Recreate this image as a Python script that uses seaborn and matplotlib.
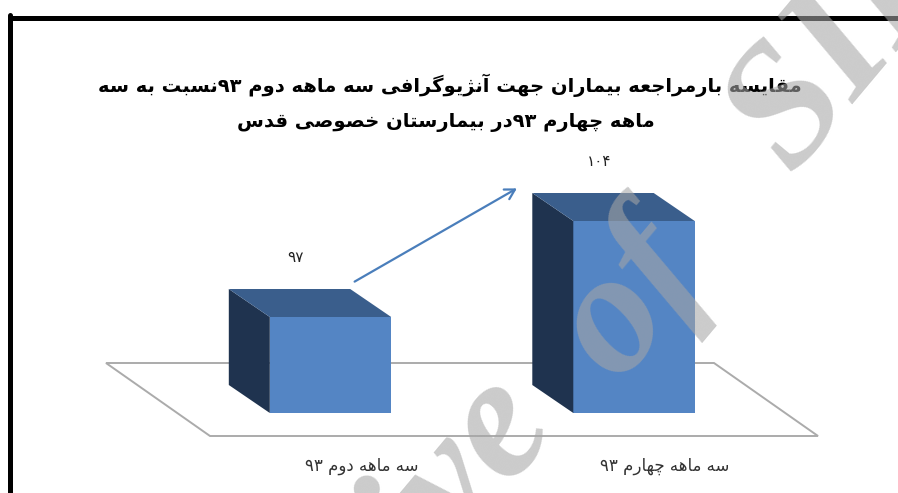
import re
import matplotlib
matplotlib.use("Agg")
import matplotlib.pyplot as plt
from matplotlib.patches import Polygon, FancyArrowPatch
from matplotlib.lines import Line2D
import pandas as pd
import seaborn as sns

# ---------------- data ----------------
title_lines = [
    "مقایسه بارمراجعه بیماران جهت آنژیوگرافی سه ماهه دوم ۹۳نسبت به سه",
    "ماهه چهارم ۹۳در بیمارستان خصوصی قدس",
]
categories = ["سه ماهه دوم ۹۳", "سه ماهه چهارم ۹۳"]
visits = [97, 104]
value_floor = 90          # value axis starts here
watermark_words = ["Archive", "of", "SID"]

# ---------------- Persian text shaping ----------------
# isolated, final, initial, medial presentation forms
FORMS = {
    "\u0622": ("\uFE81", "\uFE82", None, None),
    "\u0627": ("\uFE8D", "\uFE8E", None, None),
    "\u0628": ("\uFE8F", "\uFE90", "\uFE91", "\uFE92"),
    "\u067E": ("\uFB56", "\uFB57", "\uFB58", "\uFB59"),
    "\u062A": ("\uFE95", "\uFE96", "\uFE97", "\uFE98"),
    "\u062C": ("\uFE9D", "\uFE9E", "\uFE9F", "\uFEA0"),
    "\u0686": ("\uFB7A", "\uFB7B", "\uFB7C", "\uFB7D"),
    "\u062D": ("\uFEA1", "\uFEA2", "\uFEA3", "\uFEA4"),
    "\u062E": ("\uFEA5", "\uFEA6", "\uFEA7", "\uFEA8"),
    "\u062F": ("\uFEA9", "\uFEAA", None, None),
    "\u0631": ("\uFEAD", "\uFEAE", None, None),
    "\u0632": ("\uFEAF", "\uFEB0", None, None),
    "\u0698": ("\uFB8A", "\uFB8B", None, None),
    "\u0633": ("\uFEB1", "\uFEB2", "\uFEB3", "\uFEB4"),
    "\u0635": ("\uFEB9", "\uFEBA", "\uFEBB", "\uFEBC"),
    "\u0639": ("\uFEC9", "\uFECA", "\uFECB", "\uFECC"),
    "\u0641": ("\uFED1", "\uFED2", "\uFED3", "\uFED4"),
    "\u0642": ("\uFED5", "\uFED6", "\uFED7", "\uFED8"),
    "\u06A9": ("\uFB8E", "\uFB8F", "\uFB90", "\uFB91"),
    "\u06AF": ("\uFB92", "\uFB93", "\uFB94", "\uFB95"),
    "\u0644": ("\uFEDD", "\uFEDE", "\uFEDF", "\uFEE0"),
    "\u0645": ("\uFEE1", "\uFEE2", "\uFEE3", "\uFEE4"),
    "\u0646": ("\uFEE5", "\uFEE6", "\uFEE7", "\uFEE8"),
    "\u0647": ("\uFEE9", "\uFEEA", "\uFEEB", "\uFEEC"),
    "\u0648": ("\uFEED", "\uFEEE", None, None),
    "\u06CC": ("\uFBFC", "\uFBFD", "\uFBFE", "\uFBFF"),
}


def shape(s):
    out = []
    for i, ch in enumerate(s):
        f = FORMS.get(ch)
        if f is None:
            out.append(ch)
            continue
        prev = s[i - 1] if i > 0 else ""
        nxt = s[i + 1] if i + 1 < len(s) else ""
        join_prev = prev in FORMS and FORMS[prev][2] is not None
        join_next = f[2] is not None and nxt in FORMS
        if join_prev and join_next:
            out.append(f[3])
        elif join_prev:
            out.append(f[1])
        elif join_next:
            out.append(f[2])
        else:
            out.append(f[0])
    return "".join(out)


def rtl(s):
    """Shape and put into visual (left-to-right) order, digits kept LTR."""
    v = shape(s)[::-1]
    return re.sub("[0-9\u06F0-\u06F9]+", lambda m: m.group(0)[::-1], v)


def fa_digits(n):
    return str(n).translate(str.maketrans("0123456789", "۰۱۲۳۴۵۶۷۸۹"))


# ---------------- style ----------------
FRONT = "#5485C4"
TOP = "#3A5E8C"
SIDE = "#1F334F"
FLOOR_EDGE = "#ABABAB"
ARROW = "#4A7EBB"
DX, DY = -41, 28          # depth of the 3-D boxes, pixels

sns.set_theme(style="white")
plt.rcParams["font.family"] = ["DejaVu Sans"]

W, H = 898, 493
fig = plt.figure(figsize=(W / 100, H / 100), dpi=100)
fig.patch.set_facecolor("white")

base_px = 80              # baseline height of the bars from the bottom edge
ax = fig.add_axes([0, base_px / H, 1, (H - base_px) / H])
ax.patch.set_visible(False)

df = pd.DataFrame({"period": categories, "visits": visits})
sns.barplot(data=df, x="period", y="visits", order=categories, width=0.4,
            color=FRONT, saturation=1, errorbar=None, edgecolor="none",
            linewidth=0, ax=ax)

unit_x = 303.5            # pixels between category centres
unit_y = 96 / 7           # pixels per visit
x0_px = 330.5
ax.set_xlim(-x0_px / unit_x, (W - x0_px) / unit_x)
ax.set_ylim(value_floor, value_floor + (H - base_px) / unit_y)
ax.axis("off")


def fig_pts(pts):
    return [(x / W, y / H) for x, y in pts]


# floor plane
floor = Polygon(fig_pts([(106, 130), (714, 130), (818, 57), (210, 57)]),
                closed=True, facecolor="white", edgecolor=FLOOR_EDGE,
                linewidth=1.4, transform=fig.transFigure, zorder=-1)
fig.add_artist(floor)

# 3-D faces of the bars + value labels
tops = []
for bar, cat, val in zip(ax.patches, categories, visits):
    bx0 = bar.get_x()
    bx1 = bx0 + bar.get_width()
    btop = bar.get_y() + bar.get_height()
    X0, YB = ax.transData.transform((bx0, value_floor))
    X1, YT = ax.transData.transform((bx1, btop))
    side = Polygon(fig_pts([(X0, YB), (X0, YT), (X0 + DX, YT + DY), (X0 + DX, YB + DY)]),
                   closed=True, facecolor=SIDE, edgecolor="none",
                   transform=fig.transFigure, zorder=1)
    top = Polygon(fig_pts([(X0, YT), (X1, YT), (X1 + DX, YT + DY), (X0 + DX, YT + DY)]),
                  closed=True, facecolor=TOP, edgecolor="none",
                  transform=fig.transFigure, zorder=1)
    fig.add_artist(side)
    fig.add_artist(top)
    tops.append((X0 + DX, X1 + DX, YT + DY))
    fig.text(((X0 + X1) / 2 + DX + 6) / W, (YT + DY + 32) / H, fa_digits(val),
             ha="center", va="center", fontsize=11, color="#222222")
    fig.text(((X0 + X1) / 2 + 31) / W, 27 / H, rtl(cat),
             ha="center", va="center", fontsize=12, color="#333333")

# arrow showing the rise between the two periods
(l0, r0, t0), (l1, r1, t1) = tops
arrow = FancyArrowPatch(((r0 + 2) / W, (t0 + 6) / H), ((l1 - 13) / W, (t1 + 6) / H),
                        arrowstyle="->,head_length=7,head_width=4",
                        color=ARROW, linewidth=1.6,
                        transform=fig.transFigure, zorder=3)
fig.add_artist(arrow)

# title
fig.text(450 / W, 408 / H, rtl(title_lines[0]), ha="center", va="center",
         fontsize=14, fontweight="bold", color="black")
fig.text(446 / W, 370 / H, rtl(title_lines[1]), ha="center", va="center",
         fontsize=14, fontweight="bold", color="black")

# frame
fig.add_artist(Line2D([9.5 / W, 1.0], [475.5 / H, 475.5 / H], color="black",
                      linewidth=3.6, transform=fig.transFigure, zorder=4))
fig.add_artist(Line2D([9.5 / W, 9.5 / W], [0, 478 / H], color="black",
                      linewidth=3.6, transform=fig.transFigure, zorder=4))

# diagonal watermark, one word at a time (image-pixel centres, y from top)
wm_centres = [(350, 622), (632, 300), (852, 36)]
for word, (cx, cy) in zip(watermark_words, wm_centres):
    fig.text(cx / W, (H - cy) / H, word, ha="center", va="center",
             rotation=50, rotation_mode="anchor", fontsize=125,
             family="Liberation Serif", style="italic", fontweight="bold",
             color="#A6A6A6", alpha=0.58, zorder=6)

fig.savefig("out.png", dpi=100, facecolor="white")
